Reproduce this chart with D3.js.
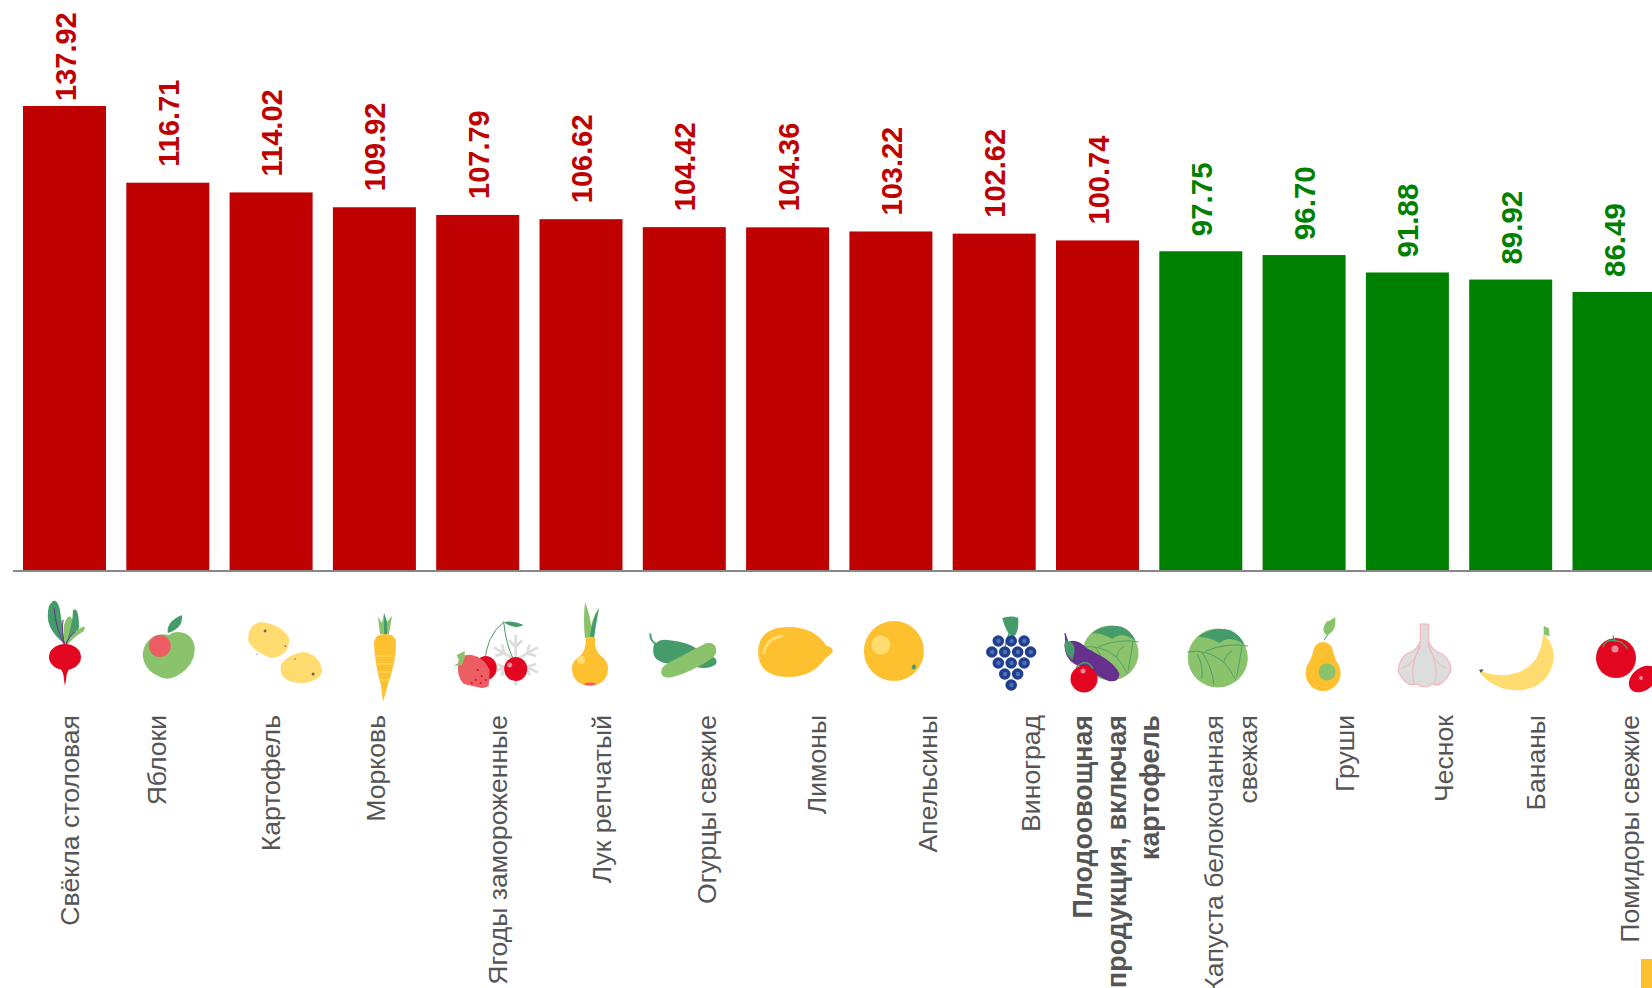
<!DOCTYPE html>
<html><head><meta charset="utf-8">
<script src="https://cdn.jsdelivr.net/npm/d3@7"></script>
<style>html,body{margin:0;padding:0;background:#fff;overflow:hidden}svg{display:block}</style>
</head><body><div id="c"></div>
<script>
const categories = ["Свёкла столовая","Яблоки","Картофель","Морковь","Ягоды замороженные","Лук репчатый","Огурцы свежие","Лимоны","Апельсины","Виноград","Плодоовощная продукция, включая картофель","Капуста белокочанная свежая","Груши","Чеснок","Бананы","Помидоры свежие"];
const values = [137.92,116.71,114.02,109.92,107.79,106.62,104.42,104.36,103.22,102.62,100.74,97.75,96.70,91.88,89.92,86.49];
const labelLines = [["Свёкла столовая"],["Яблоки"],["Картофель"],["Морковь"],["Ягоды замороженные"],["Лук репчатый"],["Огурцы свежие"],["Лимоны"],["Апельсины"],["Виноград"],["Плодоовощная","продукция, включая","картофель"],["Капуста белокочанная","свежая"],["Груши"],["Чеснок"],["Бананы"],["Помидоры свежие"]];
const boldCategory = "Плодоовощная продукция, включая картофель";
const threshold = 100;
// layout nudges (px from the bar centre)
const labelNudge = [5,-11,0,2,20,21,23,29,37,37,19,30,41,37,25,16];
const iconNudge = [0.5,1,14,10.6,12,9,-4,7,3,17,3,17,19,17,6,11];

const W=1652,H=988,RED="#BE0000",GREEN="#008000",TXT="#555555";
const Y="#FDC02F",LY="#FFDB70",LG="#8BC26C",DG="#459C6A",CR="#E30621",PK="#EC5E63",PU="#66308D",NV="#223F8F";
const svg=d3.select("#c").append("svg").attr("width",W).attr("height",H).style("font-family","'Liberation Sans',Arial,sans-serif");
const x=d3.scaleBand().domain(categories).range([23,1655.5]).paddingInner(20.3/103.3);
const y=d3.scaleLinear().domain([9.6,137.92]).range([570,106]);
const color=v=>v>threshold?RED:GREEN;
const rows=categories.map((c,i)=>({c,v:values[i],lines:labelLines[i],ln:labelNudge[i],inu:iconNudge[i],i}));

svg.selectAll("rect.bar").data(rows).join("rect").attr("class","bar")
 .attr("x",d=>x(d.c)).attr("width",x.bandwidth()).attr("y",d=>y(d.v)).attr("height",d=>y.range()[0]-y(d.v)).attr("fill",d=>color(d.v));
svg.append("line").attr("x1",13).attr("x2",W).attr("y1",571).attr("y2",571).attr("stroke","#888").attr("stroke-width",2);

const valY=d=>Math.max(y(d.v)-(d.v>threshold?16:15),101);
svg.selectAll("text.val").data(rows).join("text").attr("class","val")
 .attr("transform",d=>`translate(${x(d.c)+x.bandwidth()/2+11},${valY(d)}) rotate(-90)`)
 .attr("font-size",d=>d.v>threshold?29:29.5).attr("font-weight","bold").attr("fill",d=>color(d.v)).text(d=>d.v.toFixed(2));

const LH=33.5;
rows.forEach(d=>{
  const cx=x(d.c)+x.bandwidth()/2+d.ln, n=d.lines.length;
  d.lines.forEach((t,k)=>{
    svg.append("text").attr("transform",`translate(${cx+(k-(n-1)/2)*LH+9},715) rotate(-90)`)
      .attr("text-anchor","end").attr("font-size",d.c===boldCategory?26.8:26.6).attr("fill",TXT)
      .attr("font-weight",d.c===boldCategory?"bold":"normal").text(t);
  });
});

function P(g,d,f,s,w){return g.append("path").attr("d",d).attr("fill",f||"none").attr("stroke",s||"none").attr("stroke-width",w||0).attr("stroke-linecap","round");}
function E(g,cx,cy,rx,ry,f,rot){const e=g.append("ellipse").attr("cx",cx).attr("cy",cy).attr("rx",rx).attr("ry",ry).attr("fill",f);if(rot)e.attr("transform",`rotate(${rot} ${cx} ${cy})`);return e;}
function cabbage(g,cx,cy,r){
  const q=g.append("g").attr("transform",`translate(${cx},${cy}) scale(${r/30})`);
  E(q,0,0,30,29.5,LG);
  P(q,"M-20,-21 Q-6,-32 12,-28 Q22,-24 27,-13 Q12,-24 2,-15 Q-10,-22 -20,-21Z",DG);
  P(q,"M-30,-6 Q-12,-10 6,4 Q13,12 18,22 M30,-12 Q10,-16 -12,-7 M24,-12 Q22,4 19,18 M-16,-6 Q-6,8 -4,26 M-20,-3 Q-14,10 -16,20 M6,4 Q8,-3 14,-7",null,DG,0.9);
}
const icons=[
 g=>{ P(g,"M0,-6 Q-22,-22 -16,-44 Q-9,-56 -5,-40 L-1,-12Z",DG);
      P(g,"M0,-6 Q-4,-26 3,-33 Q8,-36 8,-22 Q6,-10 0,-6Z",LG);
      P(g,"M0,-4 Q8,-26 8,-40 Q14,-44 14,-22 Q8,-10 0,-4Z",DG);
      P(g,"M1,-4 Q6,-18 14,-21 Q22,-27 19,-19 Q10,-14 1,-4Z",LG);
      P(g,"M0,-4 Q-9,-20 -11,-42 M0,-4 Q-4,-18 -2,-30 M0,-4 Q4,-14 10,-18",null,PU,1);
      E(g,0,7,16,13,CR); P(g,"M-6,17 Q-1,22 -1,30 L0,36 L1,30 Q1,22 6,17Z",CR); },
 g=>{ P(g,"M0,-15 Q-8,-17 -14,-14 Q-26,-8 -26,6 Q-24,22 -6,28 Q0,30 8,26 Q26,16 26,-2 Q24,-18 8,-18 Q4,-18 0,-15Z",LG);
      E(g,-9,-4,11,11,PK); P(g,"M-1,-17 Q-3,-28 13,-35 Q15,-22 -1,-17Z",DG); },
 g=>{ P(g,"M-37,-10 Q-37,-26 -24,-28 Q-4,-26 4,-12 Q5,6 -14,8 Q-34,0 -37,-10Z",LY);
      P(g,"M-4,14 Q4,4 18,2 Q34,4 37,20 Q36,30 20,33 Q-8,34 -4,14Z",LY);
      E(g,-20,-19,1.4,1.4,"#666");E(g,0,-4,1,1,"#888");E(g,-28,4,0.8,0.8,"#999");E(g,28,24,1.5,1.5,"#666");E(g,10,9,0.9,0.9,"#999"); },
 g=>{ P(g,"M-5,-16 L-7,-33 L-3,-27 L-1,-37 L2,-28 L7,-34 L4,-16Z",LG); P(g,"M-1,-16 L-1,-37 L2,-28 L2,-16Z",DG);
      P(g,"M-11,-6 Q-11,-16 0,-16 Q11,-16 11,-6 Q11,12 3,34 L-2,52 L-4,36 Q-10,14 -11,-6Z",Y);
      P(g,"M-10,6 H10 M-9,14 H9 M-7,22 H7 M-5,30 H5",null,LY,1); },
 g=>{ const s=g.append("g").attr("stroke","#ddd").attr("stroke-width",2.5).attr("fill","none");
      [0,60,120].forEach(a=>s.append("path").attr("transform",`translate(26,10) rotate(${a}) scale(1.1)`).attr("d","M0,-23 V23 M-6,-18 L0,-12 L6,-18 M-6,18 L0,12 L6,18"));
      P(g,"M-5,14 Q-4,-14 14,-28 M14,-28 Q16,-6 24,10",null,DG,1);
      P(g,"M14,-28 Q24,-30 34,-25 Q24,-20 14,-28Z",DG);
      E(g,-4,18,11,12,CR); E(g,26,19,11.5,12,CR); E(g,20,15,2.5,2.5,"#E58A9B");
      P(g,"M-31,10 Q-26,4 -18,5 Q-6,7 0,20 L-1,36 Q-4,38 -8,38 L-26,34 Q-34,26 -31,10Z",PK);
      P(g,"M-33,5 L-30,12 L-36,16 L-28,15 L-25,8 L-25,1Z",LG);
      [[-12,20],[-8,26],[-4,30],[-14,30],[-9,33],[-18,33]].forEach(p=>E(g,p[0],p[1],1,1,CR)); },
 g=>{ P(g,"M-5,-12 Q-7,-30 -5,-48 Q1,-32 1,-24 Q4,-36 9,-42 Q4,-26 4,-12Z",LG); P(g,"M0,-14 Q2,-30 9,-42 Q6,-26 4,-12Z",DG);
      P(g,"M-4,-13 H5 Q4,0 10,5 Q18,11 18,18 Q18,34 0,36 Q-18,34 -18,18 Q-18,11 -9,5 Q-4,0 -4,-13Z",Y);
      E(g,-9,10,4,4,LY); P(g,"M-7,34 Q0,31 7,34 Q0,37 -7,34Z",PK); },
 g=>{ P(g,"M-31,-17 L-29,-16 Q-29,-9 -24,-7 Q-20,-11 -13,-10 Q0,-9 10,-5 L30,6 Q38,8 36,14 Q28,20 16,17 L-10,14 Q-28,12 -27,0 Q-27,-4 -26,-6 Q-31,-9 -31,-17Z",DG);
      P(g,"M-19,23 Q-20,17 -12,13 L22,-5 Q30,-10 35,-4 Q38,3 32,8 Q12,22 -8,27 Q-18,29 -19,23Z",LG); },
 g=>{ P(g,"M-36.5,2 Q-36,-23 -6,-23 Q20,-23 32,-4 Q39,-3 38,2 Q36,5 31,8 Q18,27 -6,27 Q-36,27 -36.5,2Z",Y);
      P(g,"M-31,3 Q-28,-11 -13,-14",null,LY,3); },
 g=>{ E(g,0,1,30,30,Y); E(g,-13,-5,9.5,9.5,LY); E(g,20,17,2,2.5,DG,30); },
 g=>{ P(g,"M-9,-32 Q0,-35 7,-32 Q8,-15 1,-13 Q-5,-17 -9,-32Z",DG); P(g,"M-2,-17 L-6,-4",null,DG,1.3);
      const pts=[[-1,-3],[0,-3],[1,-3],[-1.5,0],[-.5,0],[.5,0],[1.5,0],[-1,1],[0,1],[1,1],[-.5,2],[.5,2],[0,3]];
      const ry=[-9,2,13,24,35]; const pr={"-3":0,"0":1,"1":2,"2":3,"3":4};
      pts.forEach(p=>{const cy=ry[pr[p[1]]],cx=p[0]*12.9; E(g,cx,cy,5.8,5.8,NV); E(g,cx+.3,cy,2.2,2.2,"#4A70B8");}); },
 g=>{ cabbage(g,10,3,28);
      P(g,"M-36,-17 Q-35,-9 -36,-5 Q-36,8 -26,14 L8,31 Q18,33 19,24 Q16,16 4,8 L-14,-2 Q-24,-12 -32,-8 L-35,-17Z",PU);
      P(g,"M-36,-17 Q-34,-9 -36,-5 Q-36,4 -28,10 Q-24,-2 -28,-7 Q-32,-9 -35,-10Z",DG);
      E(g,-16.5,29,13.5,13.5,CR); E(g,-17.5,21,2.5,2.5,"#E58A9B"); P(g,"M-24,17 Q-18,12 -16,13 Q-12,12 -8,18",null,DG,1.5); },
 g=>{ cabbage(g,0,8,30); },
 g=>{ P(g,"M1,-10 L6,-17",null,DG,1); P(g,"M3,-15 Q-3,-20 4,-29 Q6,-28 12,-33 Q14,-18 3,-15Z",LG);
      E(g,0,2,10,10,Y); E(g,0,23,17.5,18,Y); P(g,"M-10,2 L-17,23 H17 L10,2Z",Y); E(g,4,22,8.5,8.5,LG); },
 g=>{ P(g,"M-4,-26 H4 V-10 Q6,0 18,4 Q28,12 26,22 Q18,38 8,34 Q0,40 -8,34 Q-18,38 -26,22 Q-26,10 -18,4 Q-6,0 -4,-10Z","#DDDDDD","#F5B5B8",1.2);
      P(g,"M-4,-8 Q-8,14 -22,18 M4,-8 Q8,14 22,18 M-4,-4 Q-16,18 -10,34 M4,-4 Q16,18 10,34",null,"#F5B5B8",1); },
 g=>{ P(g,"M-36,21 Q0,34 20,8 Q26,-6 26,-14 L29,-14 Q38,-4 37,10 Q32,36 6,40 Q-20,42 -36,24Z",LY);
      P(g,"M27,-15 L27,-24 L32,-22 L33,-14Z",LG); P(g,"M-36,22 L-37,20 L-34,20 Z","#555","#555",1); },
 g=>{ E(g,-9,8,20,20,CR); P(g,"M-10,-9 Q-18,-12 -22,-3 M-10,-9 Q-4,-10 2,-2 M-10,-9 L-12,-14",null,DG,1.3);
      E(g,-10,-1,3.5,3.5,"#E58A9B"); E(g,18,29,16,11,CR,-40); E(g,16,28,2,2,"#E58A9B"); }
];
rows.forEach((d,i)=>{
  const g=svg.append("g").attr("transform",`translate(${x(d.c)+x.bandwidth()/2+d.inu},650)`);
  icons[i](g);
});
svg.append("rect").attr("x",1641).attr("y",959).attr("width",11).attr("height",29).attr("fill",Y);
</script></body></html>
